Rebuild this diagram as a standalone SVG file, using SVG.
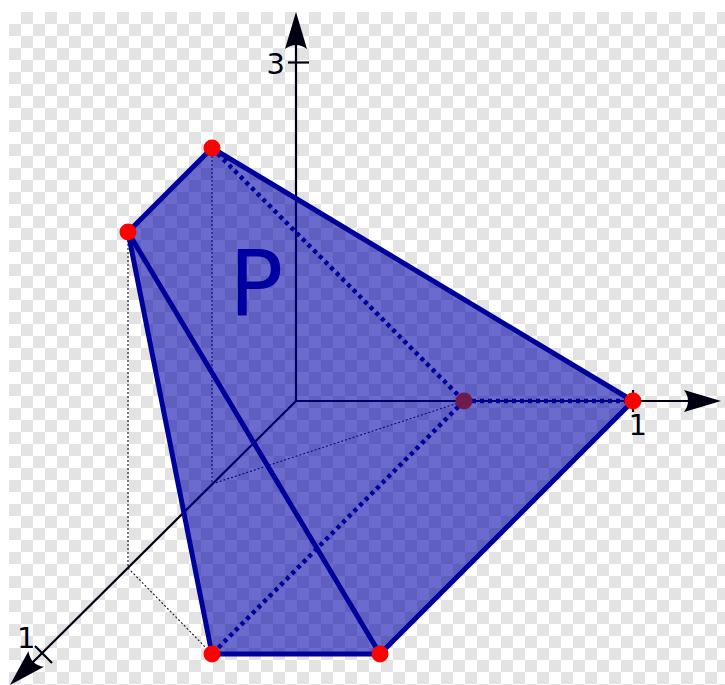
<svg xmlns="http://www.w3.org/2000/svg" width="725" height="685" viewBox="0 0 725 685">
<defs>
<pattern id="checker" x="9" y="12" width="24" height="24" patternUnits="userSpaceOnUse">
<rect x="0" y="0" width="24" height="24" fill="#ffffff"/>
<rect x="12" y="0" width="12" height="12" fill="#e3e3e3"/>
<rect x="0" y="12" width="12" height="12" fill="#e3e3e3"/>
</pattern>
<marker id="arrow" markerUnits="userSpaceOnUse" orient="auto" refX="0" refY="0" markerWidth="60" markerHeight="40" viewBox="-40 -20 60 40" overflow="visible">
<path d="M10,0 L-27,-11 Q-19,0 -27,11 Z" fill="#000010"/>
</marker>
<style>
.axis{stroke:#000010;stroke-width:2.2;fill:none}
.tick{stroke:#000010;stroke-width:2.2}
.lbl{font-family:"DejaVu Sans","Liberation Sans",sans-serif;font-size:29px;fill:#000010}
.thin{stroke:#101020;stroke-width:1.1;stroke-dasharray:2 2;fill:none}
.edge{stroke:#00009a;stroke-width:5;fill:none;stroke-linecap:round;stroke-linejoin:round}
.hidden{stroke:#00009a;stroke-width:4.5;stroke-dasharray:4 4;fill:none}
.vtx{fill:#ff0000}
</style>
</defs>
<rect x="0" y="0" width="725" height="685" fill="#ffffff"/>
<rect x="9" y="12" width="716" height="673" fill="url(#checker)"/>

<g id="axes">
<line class="axis" x1="296" y1="401" x2="296" y2="22" marker-end="url(#arrow)"/>
<line class="axis" x1="296" y1="401" x2="711" y2="401" marker-end="url(#arrow)"/>
<line class="axis" x1="296" y1="401" x2="17" y2="678" marker-end="url(#arrow)"/>
<line class="tick" x1="288" y1="62.5" x2="309" y2="62.5"/>
<line class="tick" x1="633" y1="390" x2="633" y2="412"/>
<line class="tick" x1="35" y1="646" x2="52" y2="663"/>
<text class="lbl" x="266.5" y="74">3</text>
<text class="lbl" x="628.5" y="435">1</text>
<text class="lbl" x="17" y="648">1</text>
</g>

<g id="projections">
<polyline class="thin" points="128,232 128,568 212,654"/>
<polyline class="thin" points="212,148 212,484 464,401"/>
</g>

<g id="polytope">
<polygon points="212,148 633,401 380,654 212,654 128,232" fill="#0000aa" fill-opacity="0.58" stroke="none"/>
<text x="229" y="316" font-family="DejaVu Sans, Liberation Sans, sans-serif" font-size="90" fill="#0000a0">P</text>
</g>

<g id="edges">
<polygon class="edge" points="212,148 633,401 380,654 212,654 128,232"/>
<line class="edge" x1="128" y1="232" x2="380" y2="654"/>
<line class="hidden" x1="212" y1="148" x2="464" y2="401"/>
<line class="hidden" x1="464" y1="401" x2="633" y2="401"/>
<line class="hidden" x1="464" y1="401" x2="212" y2="654"/>
</g>

<g id="vD"><circle cx="464" cy="401" r="8.5" fill="#6e1a4e"/></g>
<g id="vA"><circle class="vtx" cx="212" cy="148" r="8.5"/></g>
<g id="vB"><circle class="vtx" cx="128" cy="232" r="8.5"/></g>
<g id="vC"><circle class="vtx" cx="633" cy="401" r="8.5"/></g>
<g id="vE"><circle class="vtx" cx="212" cy="654" r="8.5"/></g>
<g id="vF"><circle class="vtx" cx="380" cy="654" r="8.5"/></g>
</svg>
